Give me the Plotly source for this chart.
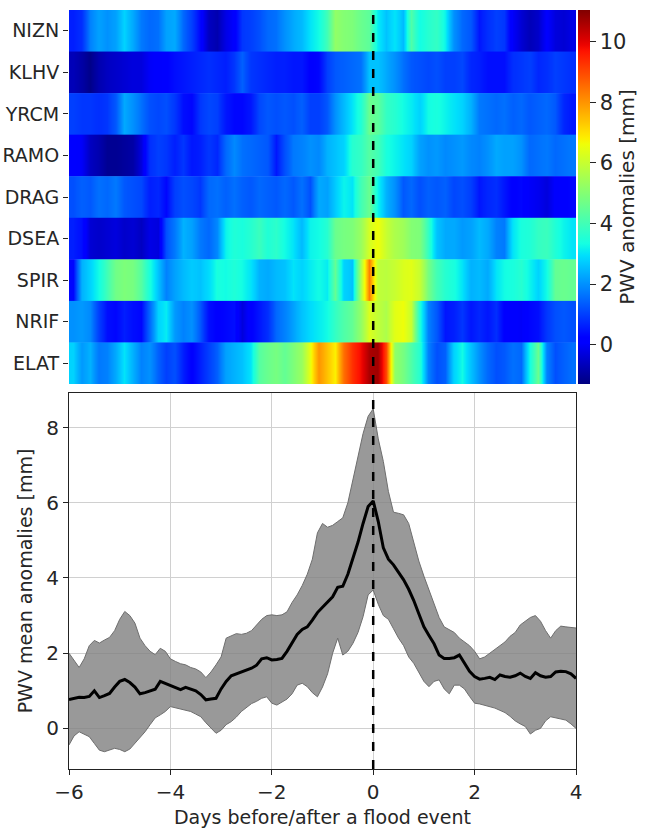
import numpy as np
import plotly.graph_objects as go

# stations, top to bottom
STATIONS = ['NIZN', 'KLHV', 'YRCM', 'RAMO', 'DRAG', 'DSEA', 'SPIR', 'NRIF', 'ELAT']

# heatmap cells: 60 steps of 4 h between -6 and +4 days
NIZN = [0.6, 0.8, 1.8, 2.2, 2.0, 2.2, 2.8, 2.3, 1.7, 1.5, 1.6, 2.2, 2.3, 1.5, 1.0, 0.3, -0.6, -0.8, -0.2, 0.1,
        0.9, 1.0, 1.2, 1.5, 1.6, 2.0, 2.3, 2.5, 3.0, 3.3, 4.0, 5.2, 5.0, 4.9, 4.6, 4.4, 3.1, 2.6, 3.0, 2.5,
        4.2, 3.3, 3.6, 3.8, 3.2, 2.0, 1.5, 1.3, 0.5, 0.8, 1.0, 0.9, 0.0, -0.4, -0.7, -0.5, 0.1, -0.3, -0.4, -0.2]
KLHV = [-0.7, -0.9, -1.2, -0.8, -0.6, -0.5, -0.4, -0.3, -0.3, 0.0, 0.1, 0.2, 0.4, 0.5, 0.6, 0.7, 0.8, 0.7, 0.6, 0.9,
        1.4, 0.9, 0.8, 0.7, 0.6, 0.6, 0.5, 0.5, 0.2, 0.3, 1.0, 1.3, 1.4, 1.5, 1.6, 2.6, 2.6, 2.3, 2.0, 1.6,
        1.3, 1.2, 1.1, 1.2, 1.0, 1.0, 1.1, 0.7, 0.6, 0.4, 0.4, 0.4, 0.8, 0.9, 1.0, 0.7, 0.8, 1.0, 0.9, 0.8]
YRCM = [1.0, 0.9, 0.9, 0.8, 0.9, 1.3, 2.3, 2.0, 1.6, 1.2, 1.1, 1.2, 0.9, 0.4, 0.3, 0.9, 1.1, 1.0, 0.5, 0.3,
        0.3, 0.5, 1.1, 1.3, 1.2, 1.3, 1.2, 1.4, 1.0, 1.0, 1.3, 2.0, 2.5, 3.0, 3.5, 4.6, 4.4, 3.8, 3.6, 3.3,
        3.1, 2.8, 3.3, 3.4, 3.2, 3.0, 2.8, 2.4, 1.7, 1.6, 1.5, 1.6, 1.4, 1.5, 1.3, 1.4, 1.5, 1.3, 0.7, 0.5]
RAMO = [0.2, 0.0, -0.6, -0.8, -1.1, -1.1, -1.0, -0.9, -0.3, 0.8, 1.0, 0.9, 0.6, 0.9, 0.5, 0.6, 0.9, 0.7, 1.5, 1.9,
        1.6, 1.5, 1.4, 1.3, 0.5, 1.2, 1.7, 1.8, 2.0, 1.9, 2.4, 2.6, 2.8, 3.6, 3.8, 4.3, 4.0, 3.4, 3.2, 3.0,
        2.8, 2.2, 2.0, 2.1, 1.9, 2.0, 2.1, 1.9, 1.8, 2.0, 2.3, 2.2, 2.2, 2.0, 1.5, 1.6, 1.7, 1.5, 1.6, 1.7]
DRAG = [1.2, 1.4, 1.3, 1.6, 1.5, 1.7, 1.3, 1.2, 1.1, 0.6, 0.7, 0.3, 1.0, 1.2, 1.1, 0.9, 1.5, 1.6, 1.4, 1.6,
        1.4, 1.3, 1.5, 1.4, 1.3, 1.5, 1.3, 1.6, 1.2, 2.3, 2.2, 2.7, 3.2, 3.0, 4.0, 4.6, 3.2, 2.4, 2.0, 1.3,
        1.5, 1.2, 1.4, 1.3, 1.4, 1.1, 1.2, 1.0, 0.5, 0.7, 0.8, 0.5, 0.2, 0.3, 0.0, -0.1, -0.3, 0.1, 0.2, 0.3]
DSEA = [0.6, 0.4, -0.4, -0.5, -0.4, -0.3, -0.5, -0.4, -0.6, -0.2, -0.3, 1.2, 1.7, 2.4, 2.2, 1.7, 1.5, 1.9, 3.2, 3.5,
        3.4, 3.6, 3.9, 3.5, 3.7, 3.3, 3.0, 2.5, 3.2, 3.3, 3.6, 4.6, 4.8, 4.9, 5.3, 6.2, 6.6, 6.0, 5.6, 5.4,
        5.0, 4.9, 3.8, 2.6, 2.3, 2.3, 2.1, 2.2, 2.5, 2.3, 1.8, 1.7, 3.0, 3.4, 3.5, 3.8, 3.9, 3.5, 3.2, 3.0]
SPIR = [0.3, 2.4, 2.8, 3.3, 4.0, 4.7, 4.9, 4.8, 4.3, 3.4, 2.6, 1.8, 2.2, 2.5, 2.7, 2.6, 2.9, 3.4, 3.3, 3.5,
        3.3, 3.0, 2.4, 2.3, 2.5, 2.6, 3.0, 2.8, 3.1, 3.3, 3.1, 4.5, 2.8, 2.6, 5.5, 8.3, 5.9, 5.8, 6.0, 6.3,
        6.4, 6.0, 4.8, 4.0, 3.6, 3.4, 3.0, 2.4, 2.5, 2.3, 3.0, 3.3, 3.4, 3.6, 3.2, 2.8, 3.3, 4.5, 4.6, 4.5]
NRIF = [2.0, 2.1, 1.9, 1.0, 0.4, 0.3, 0.6, 0.4, 0.3, 1.5, 2.8, 3.1, 2.1, 1.8, 2.0, 1.3, 0.4, 0.2, 0.3, 0.4,
        -0.3, 0.2, 0.5, 0.8, 1.5, 1.8, 2.2, 2.6, 2.9, 3.1, 3.3, 3.8, 4.2, 4.5, 5.2, 6.3, 5.9, 5.6, 6.4, 6.6,
        6.0, 3.5, 1.8, 1.3, 0.5, 0.6, 0.9, 0.5, 0.7, 0.5, 0.8, 0.2, 0.1, 0.0, 0.3, 0.4, 0.9, 1.2, 1.3, 1.2]
ELAT = [2.8, 2.1, 2.4, 1.7, 1.8, 2.3, 3.0, 2.4, 1.8, 2.0, 1.4, 1.0, 1.2, 0.6, 0.2, 0.6, 1.0, 1.4, 2.2, 2.4,
        2.6, 3.0, 4.3, 4.6, 4.8, 4.5, 4.9, 5.3, 6.5, 8.0, 7.4, 6.8, 8.5, 9.3, 9.8, 10.6, 10.7, 9.0, 5.2, 4.8,
        4.2, 3.6, 1.8, 1.2, 1.4, 2.8, 3.3, 2.6, 2.0, 1.5, 1.2, 1.3, 1.6, 1.5, 3.3, 4.6, 1.8, 1.2, 1.4, 1.6]

# mean curve and its spread, every 0.1 day from -6 to +4
DAYS = [round(-6 + 0.1 * i, 1) for i in range(101)]
MEAN = [0.77, 0.80, 0.83, 0.82, 0.85, 1.00, 0.82, 0.87, 0.93, 1.10,
        1.25, 1.30, 1.22, 1.10, 0.92, 0.95, 1.00, 1.04, 1.25, 1.20,
        1.15, 1.10, 1.03, 1.09, 1.05, 1.00, 0.90, 0.76, 0.78, 0.80,
        1.05, 1.25, 1.40, 1.45, 1.48, 1.53, 1.60, 1.68, 1.85, 1.88,
        1.82, 1.83, 1.86, 2.05, 2.28, 2.50, 2.63, 2.70, 2.88, 3.08,
        3.22, 3.35, 3.50, 3.75, 3.78, 4.10, 4.52, 4.95, 5.45, 5.90,
        6.05, 5.50, 4.80, 4.50, 4.35, 4.15, 3.95, 3.70, 3.40, 3.05,
        2.70, 2.47, 2.25, 1.95, 1.86, 1.86, 1.88, 1.95, 1.75, 1.52,
        1.38, 1.31, 1.33, 1.36, 1.30, 1.42, 1.38, 1.36, 1.40, 1.47,
        1.38, 1.33, 1.48, 1.40, 1.36, 1.38, 1.50, 1.52, 1.51, 1.45, 1.33]
UPPER = [2.00, 1.80, 1.62, 1.85, 2.20, 2.34, 2.27, 2.35, 2.42, 2.60,
         2.90, 3.11, 3.00, 2.80, 2.40, 2.20, 2.05, 1.96, 2.13, 2.05,
         1.85, 1.78, 1.72, 1.69, 1.62, 1.58, 1.50, 1.35, 1.50, 1.69,
         1.90, 2.40, 2.45, 2.52, 2.50, 2.53, 2.60, 2.75, 2.90, 3.00,
         3.02, 3.00, 3.02, 3.10, 3.35, 3.55, 3.80, 4.10, 4.50, 5.20,
         5.45, 5.35, 5.40, 5.50, 5.60, 6.00, 6.60, 7.20, 7.84, 8.30,
         8.50, 7.70, 7.10, 6.30, 5.75, 5.72, 5.68, 5.45, 4.95, 4.45,
         4.05, 3.70, 3.35, 2.95, 2.70, 2.62, 2.55, 2.40, 2.30, 2.20,
         2.05, 1.85, 1.90, 2.00, 2.12, 2.20, 2.30, 2.45, 2.55, 2.75,
         2.85, 2.95, 3.00, 2.85, 2.60, 2.40, 2.60, 2.72, 2.70, 2.68, 2.67]
LOWER = [-0.44, -0.20, -0.09, -0.15, -0.22, -0.40, -0.58, -0.62, -0.58, -0.53,
         -0.56, -0.62, -0.55, -0.40, -0.25, -0.09, 0.10, 0.28, 0.36, 0.45,
         0.58, 0.55, 0.50, 0.49, 0.45, 0.38, 0.31, 0.15, 0.00, -0.13,
         -0.05, 0.10, 0.18, 0.30, 0.45, 0.55, 0.66, 0.72, 0.80, 0.84,
         0.67, 0.62, 0.70, 0.78, 0.92, 1.15, 1.20, 1.11, 0.95, 0.84,
         1.10, 1.45, 2.00, 2.40, 1.95, 2.05, 2.26, 2.55, 2.97, 3.55,
         3.68, 3.30, 3.00, 2.90, 2.65, 2.40, 2.20, 1.90, 1.73, 1.50,
         1.25, 1.11, 1.25, 1.29, 1.05, 0.92, 1.15, 1.15, 1.05, 0.85,
         0.67, 0.65, 0.62, 0.58, 0.54, 0.48, 0.42, 0.32, 0.20, 0.12,
         0.05, -0.15, -0.05, 0.00, 0.20, 0.31, 0.28, 0.27, 0.22, 0.12, 0.00]

CB_TICKS = [0, 2, 4, 6, 8, 10]
X_TICKS = [-6, -4, -2, 0, 2, 4]
Y_TICKS = [0, 2, 4, 6, 8]

FONT = 'DejaVu Sans'
TXT = '#262626'

W, H = 657, 831
# plot area left/top/bottom edges in pixels; right margin left at 0 so the
# colorbar sits inside the plotting area and never pushes the margins
L, T, B = 69, 10, 62
PW, PH = W - L, H - T - B
X_RIGHT = (576 - L) / PW


def mpl_jet(n=65):
    # matplotlib's 'jet' segment data, sampled for a plotly colorscale
    red = ([0, 0.35, 0.66, 0.89, 1], [0, 0, 1, 1, 0.5])
    green = ([0, 0.125, 0.375, 0.64, 0.91, 1], [0, 0, 1, 1, 0, 0])
    blue = ([0, 0.11, 0.34, 0.65, 1], [0.5, 1, 1, 0, 0])
    out = []
    for t in np.linspace(0, 1, n):
        r, g, b = (np.interp(t, *c) for c in (red, green, blue))
        out.append([float(t), f'rgb({r*255:.0f},{g*255:.0f},{b*255:.0f})'])
    return out


rows = [NIZN, KLHV, YRCM, RAMO, DRAG, DSEA, SPIR, NRIF, ELAT]
x_edges = np.linspace(-6, 4, len(NIZN) + 1)

fig = go.Figure()
for i, row in enumerate(rows):
    # one trace per station so the smoothing stays inside each band
    fig.add_trace(go.Heatmap(
        z=[row, row], x=x_edges, y=[i - 0.5, i, i + 0.5],
        coloraxis='coloraxis', zsmooth='best',
        xaxis='x', yaxis='y', name=STATIONS[i],
    ))

fig.add_trace(go.Scatter(
    x=DAYS, y=LOWER, mode='lines', line=dict(color='#6e6e6e', width=1),
    xaxis='x2', yaxis='y2', showlegend=False, hoverinfo='skip',
))
fig.add_trace(go.Scatter(
    x=DAYS, y=UPPER, mode='lines', line=dict(color='#6e6e6e', width=1),
    fill='tonexty', fillcolor='rgba(128,128,128,0.8)',
    xaxis='x2', yaxis='y2', showlegend=False, hoverinfo='skip',
))
fig.add_trace(go.Scatter(
    x=DAYS, y=MEAN, mode='lines', line=dict(color='black', width=3),
    xaxis='x2', yaxis='y2', showlegend=False,
))

# event marker on both panels
for xr, yr in [('x', 'y domain'), ('x2', 'y2 domain')]:
    fig.add_shape(type='line', x0=0, x1=0, y0=0, y1=1, xref=xr, yref=yr,
                  line=dict(color='black', width=2.5, dash='dash'))

axis_common = dict(
    showgrid=True, gridcolor='#d0d0d0', gridwidth=1,
    showline=True, linecolor='#222', linewidth=1.2, mirror=True,
    ticks='outside', ticklen=5, tickcolor='#222', zeroline=False,
    automargin=False, tickfont=dict(size=20),
)

fig.update_layout(
    width=W, height=H,
    margin=dict(l=L, r=0, t=T, b=B),
    paper_bgcolor='white', plot_bgcolor='white',
    font=dict(family=FONT, color=TXT),
    showlegend=False,
    coloraxis=dict(
        colorscale=mpl_jet(), cmin=-1.3, cmax=11.05,
        colorbar=dict(
            x=(578 - L) / PW, xanchor='left', xpad=0, ypad=0,
            y=(H - B - 197) / PH, yanchor='middle',
            len=374 / PH, thickness=12, outlinewidth=0,
            tickvals=CB_TICKS, ticks='outside', ticklen=6, tickcolor=TXT,
            # non-breaking spaces push the labels and title to the right
            tickprefix='\u00a0', ticksuffix='\u00a0\u00a0',
            tickfont=dict(family=FONT, size=21, color=TXT),
            title=dict(text='PWV anomalies [mm]', side='right',
                       font=dict(family=FONT, size=20, color=TXT)),
        ),
    ),
    xaxis=dict(domain=[0, X_RIGHT], range=[-6, 4], visible=False),
    yaxis=dict(domain=[(H - B - 384) / PH, 1], range=[8.5, -0.5],
               tickvals=list(range(len(STATIONS))), ticktext=STATIONS,
               ticks='outside', ticklen=5, tickcolor=TXT, showgrid=False,
               zeroline=False, automargin=False, tickfont=dict(size=19)),
    xaxis2=dict(domain=[0, X_RIGHT], range=[-6, 4], anchor='y2',
                tickvals=X_TICKS,
                title=dict(text='Days before/after a flood event',
                           font=dict(size=19), standoff=7),
                **axis_common),
    yaxis2=dict(domain=[0, (H - B - 393) / PH], range=[-1.08, 8.92],
                anchor='x2', tickvals=Y_TICKS,
                title=dict(text='PWV mean anomalies [mm]',
                           font=dict(size=19), standoff=8),
                **axis_common),
)

# drop the browser's default page margin so the figure sits at (0, 0)
fig.write_html('out.html', config={'displayModeBar': False},
               post_script="document.body.style.margin='0px';")
